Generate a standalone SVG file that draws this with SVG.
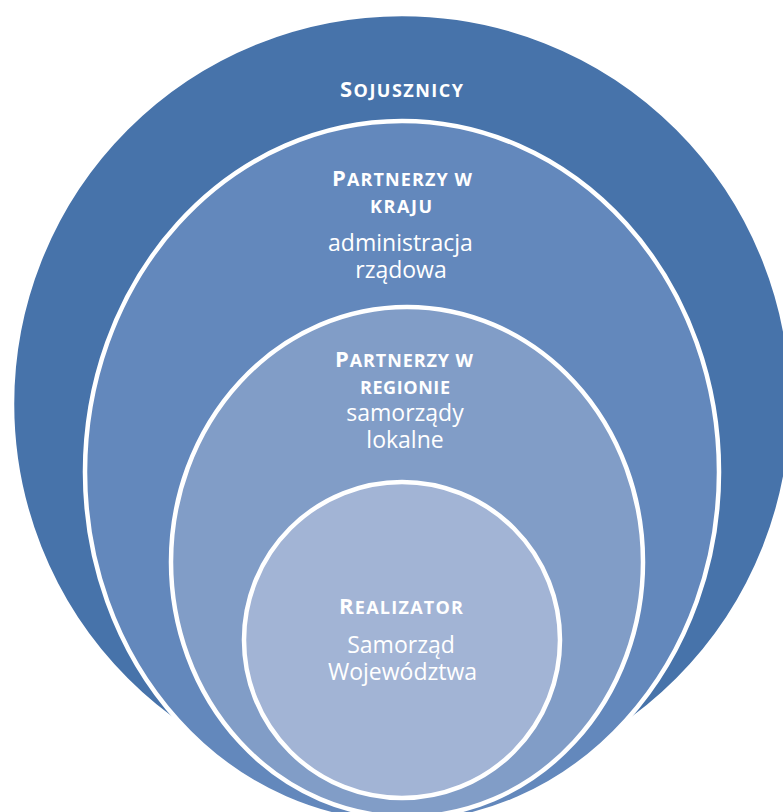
<svg xmlns="http://www.w3.org/2000/svg" width="783" height="812" viewBox="0 0 783 812">
<style>
.ring{stroke:#FFFFFF;stroke-width:4.5}
.t{fill:#FFFFFF;font-family:"Open Sans","Noto Sans","DejaVu Sans",sans-serif;text-anchor:middle}
.h{font-weight:bold}
.big{font-size:22px}
.sm{font-size:18px}
.body{font-size:23px}
</style>
<rect width="783" height="812" fill="#FFFFFF"/>
<g id="connectors"/>
<g id="sojusznicy">
<circle class="ring" cx="402" cy="404" r="390" fill="#4773AA"/>
<text class="t h" x="401.5" y="97" textLength="123" lengthAdjust="spacing"><tspan class="big">S</tspan><tspan class="sm">OJUSZNICY</tspan></text>
</g>
<g id="partnerzy-w-kraju">
<ellipse class="ring" cx="402" cy="472" rx="317" ry="351" fill="#6388BC"/>
<text class="t h" x="402" y="186" textLength="140" lengthAdjust="spacing"><tspan class="big">P</tspan><tspan class="sm">ARTNERZY W</tspan></text>
<text class="t h sm" x="401" y="213" textLength="62" lengthAdjust="spacing">KRAJU</text>
<text class="t body" x="400.5" y="251">administracja</text>
<text class="t body" x="401" y="278">rządowa</text>
</g>
<g id="partnerzy-w-regionie">
<ellipse class="ring" cx="407" cy="562" rx="236" ry="255" fill="#819DC7"/>
<text class="t h" x="404" y="367" textLength="138" lengthAdjust="spacing"><tspan class="big">P</tspan><tspan class="sm">ARTNERZY W</tspan></text>
<text class="t h sm" x="405" y="394" textLength="90" lengthAdjust="spacing">REGIONIE</text>
<text class="t body" x="405" y="421">samorządy</text>
<text class="t body" x="405" y="448">lokalne</text>
</g>
<g id="realizator">
<circle class="ring" cx="402" cy="640" r="158" fill="#A2B4D5"/>
<text class="t h" x="401" y="614" textLength="124" lengthAdjust="spacing"><tspan class="big">R</tspan><tspan class="sm">EALIZATOR</tspan></text>
<text class="t body" x="401" y="653">Samorząd</text>
<text class="t body" x="402.5" y="680">Województwa</text>
</g>
</svg>
